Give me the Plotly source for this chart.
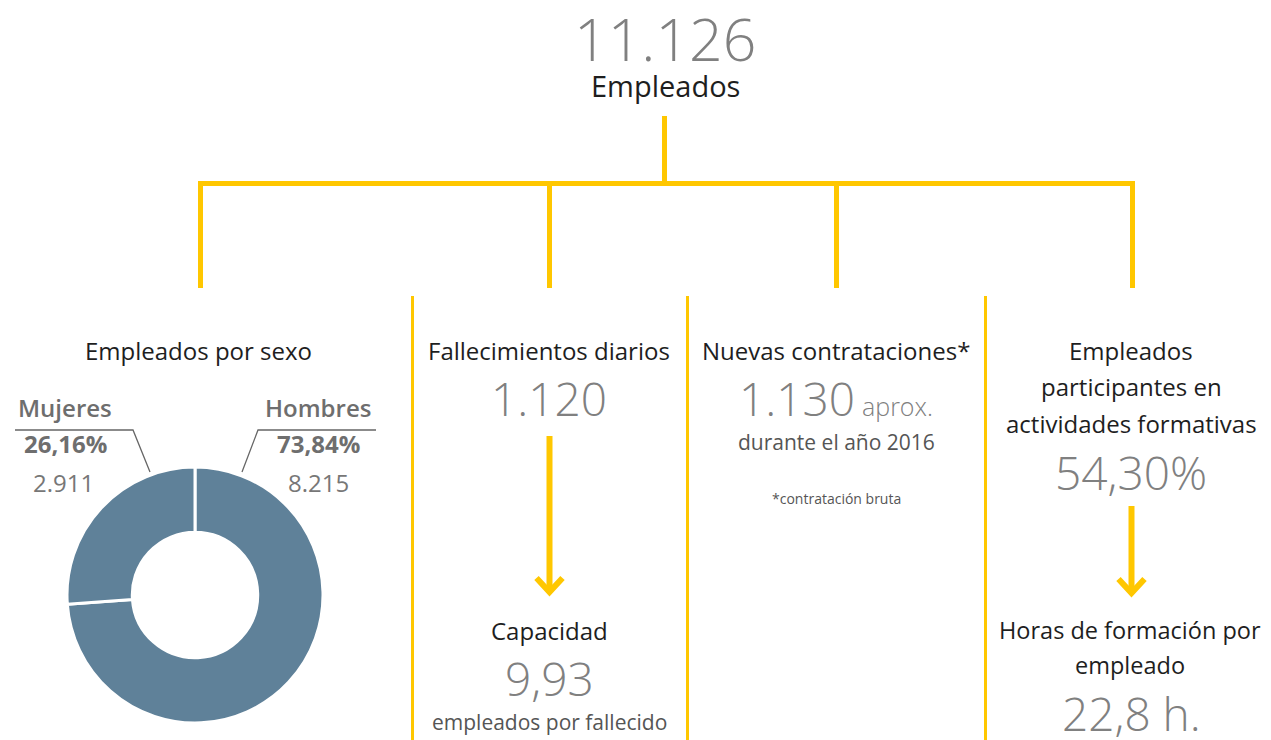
import plotly.graph_objects as go

# ---------------- data ----------------
total_empleados = "11.126"
total_label = "Empleados"

sexo_labels = ["Hombres", "Mujeres"]
sexo_values = [8215, 2911]
sexo_pct = ["73,84%", "26,16%"]
sexo_num = ["8.215", "2.911"]

fallecimientos_title = "Fallecimientos diarios"
fallecimientos_value = "1.120"
capacidad_title = "Capacidad"
capacidad_value = "9,93"
capacidad_sub = "empleados por fallecido"

contrataciones_title = "Nuevas contrataciones*"
contrataciones_value = "1.130"
contrataciones_unit = "aprox."
contrataciones_sub = "durante el año 2016"
contrataciones_note = "*contratación bruta"

formacion_title = ["Empleados", "participantes en", "actividades formativas"]
formacion_value = "54,30%"
horas_title = ["Horas de formación por", "empleado"]
horas_value = "22,8 h."

# ---------------- styles ----------------
PAGE_W, PAGE_H = 1271, 740
OFF = 8  # page body margin
W, H = PAGE_W - OFF, PAGE_H - OFF
YEL = "#FFC700"
BLUE = "#5F8199"
GRAY = "#808080"
DARK = "#1e1e1e"
MID = "#555555"
FONT = "Open Sans"

fig = go.Figure()

# donut
cx0, cx1, cy0, cy1 = 67, 323, 467, 723
fig.add_trace(go.Pie(
    labels=sexo_labels, values=sexo_values, hole=0.49, sort=False,
    direction="clockwise", rotation=0, textinfo="none", hoverinfo="label+value+percent",
    marker=dict(colors=[BLUE, BLUE], line=dict(color="white", width=3)),
    domain=dict(x=[(cx0 - OFF) / W, (cx1 - OFF) / W],
                y=[1 - (cy1 - OFF) / H, 1 - (cy0 - OFF) / H]),
    showlegend=False,
))

shapes = []
def line(x0, y0, x1, y1, w=5, color=YEL):
    shapes.append(dict(type="line", xref="x", yref="y", x0=x0, y0=y0, x1=x1, y1=y1,
                       line=dict(color=color, width=w)))

# tree
line(664.5, 116, 664.5, 183)
line(198, 183.5, 1135, 183.5)
for xx in [200.5, 549.5, 836.5, 1132.5]:
    line(xx, 183, xx, 288)
# column dividers
for xx in [412.5, 687.5, 985.5]:
    line(xx, 296, xx, 760, w=3)
# arrows
def arrow(x, y0, y1):
    line(x, y0, x, y1 - 2, w=6)
    shapes.append(dict(type="path", xref="x", yref="y",
                       path=f"M {x-13} {y1-14} L {x} {y1} L {x+13} {y1-14}",
                       line=dict(color=YEL, width=6)))
arrow(549.5, 436, 592)
arrow(1131.5, 506, 593)

# donut leader lines
shapes.append(dict(type="path", xref="x", yref="y", path="M 15 430 L 133 430 L 150 472",
                   line=dict(color="#666666", width=1.3)))
shapes.append(dict(type="path", xref="x", yref="y", path="M 376 430 L 258 430 L 242 472",
                   line=dict(color="#666666", width=1.3)))

ann = []
DY = -2
def txt(x, y, s, size, color, weight=400, xanchor="center"):
    ann.append(dict(x=x, y=y + DY, xref="x", yref="y", text=s, showarrow=False,
                    xanchor=xanchor, yanchor="middle",
                    font=dict(family=FONT, size=size, color=color, weight=weight)))

txt(665, 40, total_empleados, 59, GRAY, 300)
txt(665, 87, total_label, 29, DARK)

txt(198, 352, "Empleados por sexo", 24, DARK)
txt(65, 409, sexo_labels[1], 24, "#6e6e6e", 600)
txt(318, 409, sexo_labels[0], 24, "#6e6e6e", 600)
txt(65, 445, sexo_pct[1], 24, "#6e6e6e", 700)
txt(318, 445, sexo_pct[0], 24, "#6e6e6e", 700)
txt(63, 484, sexo_num[1], 24, "#777777", 400)
txt(318, 484, sexo_num[0], 24, "#777777", 400)

txt(549, 352, fallecimientos_title, 24, DARK)
txt(549, 400, fallecimientos_value, 46, GRAY, 300)
txt(549, 632, capacidad_title, 24, DARK)
txt(549, 680, capacidad_value, 46, GRAY, 300)
txt(549, 724, capacidad_sub, 21, MID)

txt(836, 352, contrataciones_title, 24, DARK)
txt(797, 400, contrataciones_value, 46, GRAY, 300)
txt(897, 408, contrataciones_unit, 25, GRAY, 300)
txt(836, 444, contrataciones_sub, 21, MID)
txt(836, 500, contrataciones_note, 14, MID)

for i, s in enumerate(formacion_title):
    txt(1131, 352 + i * 36.5, s, 24, DARK)
txt(1131, 474, formacion_value, 46, GRAY, 300)
for i, s in enumerate(horas_title):
    txt(1130, 632 + i * 35, s, 23.5, DARK)
txt(1131, 715, horas_value, 46, GRAY, 300)

fig.update_layout(
    width=W, height=H, margin=dict(l=0, r=0, t=0, b=0),
    paper_bgcolor="white", plot_bgcolor="white",
    xaxis=dict(range=[OFF, PAGE_W], visible=False, fixedrange=True),
    yaxis=dict(range=[PAGE_H, OFF], visible=False, fixedrange=True),
    shapes=shapes, annotations=ann, showlegend=False,
)
fig.write_html("out.html")
